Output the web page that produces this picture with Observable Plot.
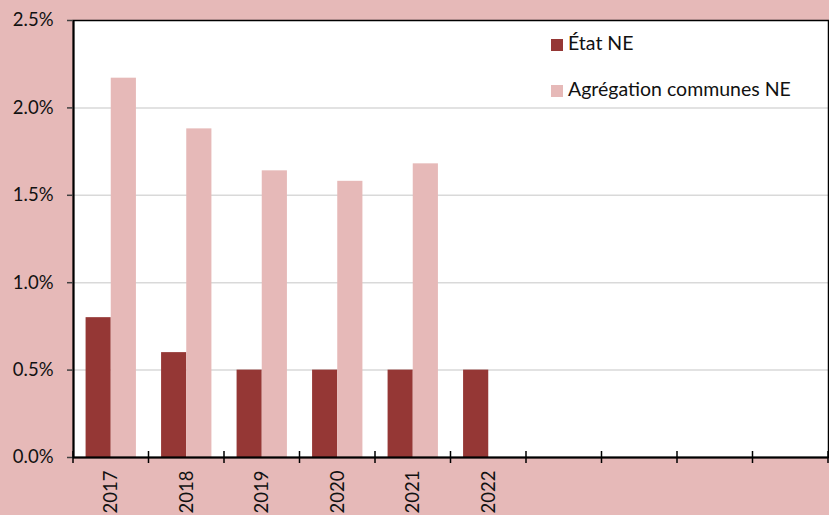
<!DOCTYPE html>
<html><head><meta charset="utf-8">
<script src="https://cdn.jsdelivr.net/npm/d3@7"></script>
<script src="https://cdn.jsdelivr.net/npm/@observablehq/plot@0.6"></script>
<style>
html,body{margin:0;padding:0;background:#E6B9B8;}
#wrap{position:relative;width:829px;height:515px;overflow:hidden;}
.lg{position:absolute;left:551px;font-family:Lato,"Open Sans",sans-serif;font-size:19.5px;color:#111;white-space:nowrap;line-height:1;}
.lg span.sw{display:inline-block;width:12px;height:12px;margin-right:5px;vertical-align:-1px;}
</style></head><body><div id="wrap"></div>
<script>
const categories = ["2017","2018","2019","2020","2021","2022","slot7","slot8","slot9","slot10"];
const tickLabels = ["2017","2018","2019","2020","2021","2022","","","",""];
const seriesNames = ["État NE","Agrégation communes NE"];
const etatValues = [0.008,0.006,0.005,0.005,0.005,0.005];
const communesValues = [0.0217,0.0188,0.0164,0.0158,0.0168];
const colors = ["#953735","#E6B9B8"];
const yTicks = [0,0.005,0.01,0.015,0.02,0.025];

const etatRows = etatValues.map((v,i)=>({cat:categories[i], value:v, series:seriesNames[0]}));
const communesRows = communesValues.map((v,i)=>({cat:categories[i], value:v, series:seriesNames[1]}));

const W=829,H=515,mL=73,mR=1,mT=20,mB=58;
const bw=(W-mL-mR)/categories.length;

const chart = Plot.plot({
  width:W, height:H, marginLeft:mL, marginRight:mR, marginTop:mT, marginBottom:mB,
  style:{background:"#E6B9B8", fontFamily:"Lato, 'Open Sans', sans-serif", fontSize:"18.5px", color:"#111", overflow:"visible"},
  x:{type:"band", domain:categories, padding:0, round:false, label:null},
  y:{domain:[0,0.025], label:null},
  marks:[
    Plot.frame({fill:"white", stroke:null}),
    Plot.gridY(yTicks.slice(1,-1), {stroke:"#d9d9d9", strokeOpacity:1, strokeWidth:1.5}),
    Plot.barY(etatRows,{x:"cat", y:"value", fill:colors[0], insetLeft:bw/6, insetRight:bw/2}),
    Plot.barY(communesRows,{x:"cat", y:"value", fill:colors[1], insetLeft:bw/2, insetRight:bw/6}),
    Plot.frame({stroke:"black", strokeWidth:1.5}),
    Plot.ruleX([categories[0]],{x:d=>d, dx:-bw/2, stroke:"black", strokeWidth:2}),
    Plot.ruleY([0],{stroke:"black", strokeWidth:2}),
    Plot.axisY({ticks:yTicks, tickFormat:d3.format(".1%"), tickSize:6, tickPadding:14, stroke:"#404040", strokeWidth:1.5}),
    Plot.axisX({tickSize:0, tickRotate:-90, tickPadding:13, tickFormat:d=>tickLabels[categories.indexOf(d)]})
  ]
});
document.getElementById("wrap").appendChild(chart);

// category boundary ticks (Excel style)
const xs = chart.scale("x"), ys = chart.scale("y");
const y0 = ys.apply(0);
const bounds = categories.map(c=>xs.apply(c)).concat([xs.apply(categories[categories.length-1])+xs.bandwidth]);
d3.select(chart).append("g").selectAll("line").data(bounds).join("line")
  .attr("x1",d=>d).attr("x2",d=>d).attr("y1",y0-6).attr("y2",y0+6)
  .attr("stroke","black").attr("stroke-width",1.5);

// legend
const wrap = document.getElementById("wrap");
const legendTops=[33,79];
seriesNames.forEach((s,i)=>{
  const d=document.createElement("div");
  d.className="lg"; d.style.top=legendTops[i]+"px";
  d.innerHTML=`<span class="sw" style="background:${colors[i]}"></span>${s}`;
  wrap.appendChild(d);
});
</script>
</body></html>
